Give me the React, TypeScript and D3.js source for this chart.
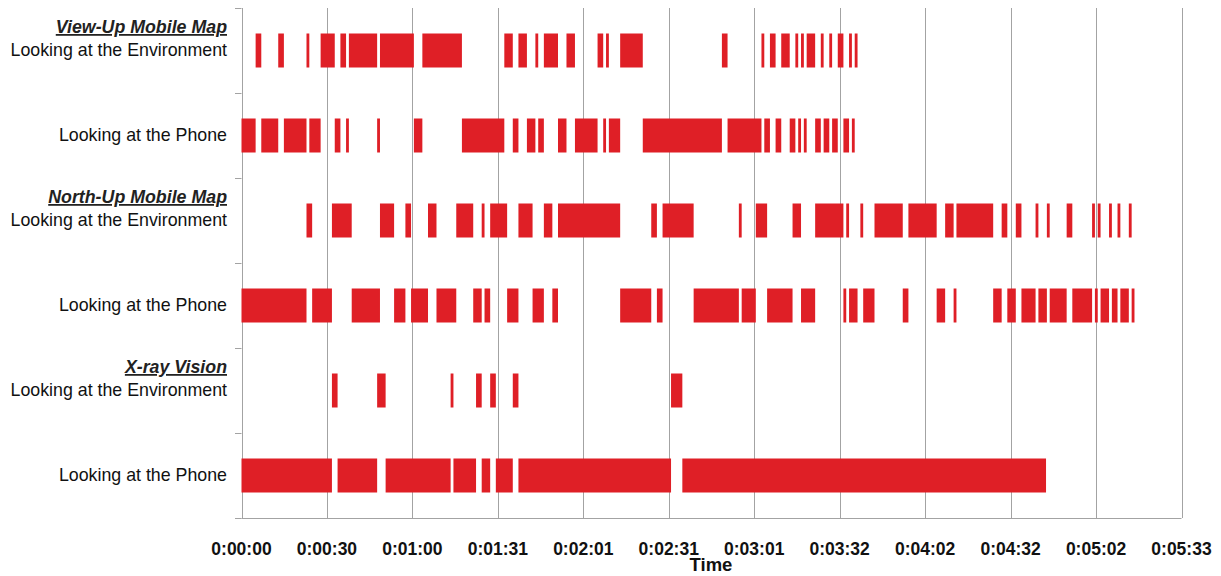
import React from "react";
import * as d3 from "d3";

// Row categories (top to bottom)
const rowKeys = ["vuEnv", "vuPhone", "nuEnv", "nuPhone", "xrEnv", "xrPhone"];
const rowLabels = [
  "Looking at the Environment",
  "Looking at the Phone",
  "Looking at the Environment",
  "Looking at the Phone",
  "Looking at the Environment",
  "Looking at the Phone",
];
const groupTitles = ["View-Up Mobile Map", "", "North-Up Mobile Map", "", "X-ray Vision", ""];

// Intervals [start, end] in seconds
const viewUpEnv: [number, number][] = [
  [5, 7], [13, 15], [23, 24], [28, 33], [35, 37], [38, 48], [49, 61], [64, 78], [93, 96], [98, 101],
  [104, 105], [107, 112], [115, 118], [126, 128], [129, 130], [134, 142], [170, 172], [184, 185],
  [187, 189], [191, 194], [196, 197], [198, 199], [200, 203], [205, 206], [208, 209], [211, 213],
  [215, 216], [217, 218],
];
const viewUpPhone: [number, number][] = [
  [0, 5], [7, 13], [15, 23], [24, 28], [33, 35], [37, 38], [48, 49], [61, 64], [78, 93], [96, 98],
  [101, 104], [105, 107], [112, 115], [118, 126], [128, 129], [130, 134], [142, 170], [172, 184],
  [185, 187], [189, 191], [194, 196], [197, 198], [199, 200], [203, 205], [206, 208], [209, 211],
  [213, 215], [216, 217],
];
const northUpEnv: [number, number][] = [
  [23, 25], [32, 39], [49, 54], [58, 60], [66, 69], [76, 82], [85, 86], [88, 94], [98, 103],
  [107, 110], [112, 134], [145, 147], [149, 160], [176, 177], [182, 186], [195, 198], [203, 213],
  [214, 215], [219, 220], [224, 234], [236, 246], [249, 252], [253, 266], [269, 271], [274, 276],
  [281, 282], [285, 286], [292, 294], [301, 302], [303, 304], [307, 308], [310, 311], [314, 315],
];
const northUpPhone: [number, number][] = [
  [0, 23], [25, 32], [39, 49], [54, 58], [60, 66], [69, 76], [82, 85], [86, 88], [94, 98],
  [103, 107], [110, 112], [134, 145], [147, 149], [160, 176], [177, 182], [186, 195], [198, 203],
  [213, 214], [215, 218], [220, 224], [234, 236], [246, 249], [252, 253], [266, 269], [271, 274],
  [276, 281], [282, 285], [286, 292], [294, 301], [302, 303], [304, 307], [308, 310], [311, 314],
  [315, 316],
];
const xrayEnv: [number, number][] = [
  [32, 34], [48, 51], [74, 75], [83, 85], [88, 90], [96, 98], [152, 156],
];
const xrayPhone: [number, number][] = [
  [0, 32], [34, 48], [51, 74], [75, 83], [85, 88], [90, 96], [98, 152], [156, 284.7],
];
const seriesByRow = [viewUpEnv, viewUpPhone, northUpEnv, northUpPhone, xrayEnv, xrayPhone];

// X axis ticks (seconds) and labels
const tickSeconds = [0, 30.24, 60.48, 90.72, 120.96, 151.2, 181.44, 211.68, 241.92, 272.16, 302.4, 332.64];
const tickLabels = [
  "0:00:00", "0:00:30", "0:01:00", "0:01:31", "0:02:01", "0:02:31",
  "0:03:01", "0:03:32", "0:04:02", "0:04:32", "0:05:02", "0:05:33",
];

const W = 1221;
const H = 576;
const FONT = "Liberation Sans, Arial, sans-serif";

export default function App() {
  const x = d3.scaleLinear().domain([0, 332.64]).range([241.5, 1181.5]);
  const y = d3.scaleBand().domain(rowKeys).range([8, 518]);
  const barH = 34;
  const fill = "#df1f26";
  const grid = "#a3a3a3";

  return (
    <svg width={W} height={H} style={{ position: "absolute", left: 0, top: 0 }} fontFamily={FONT}>
      <rect x={0} y={0} width={W} height={H} fill="#fff" />
      {/* vertical gridlines */}
      {tickSeconds.map((t, i) => (
        <line key={"g" + i} x1={Math.round(x(t)) + 0.5} x2={Math.round(x(t)) + 0.5} y1={8} y2={518} stroke={grid} strokeWidth={1} />
      ))}
      {/* y axis ticks */}
      {rowKeys.map((k, i) => (
        <line key={"yt" + i} x1={235} x2={241.5} y1={Math.round(y(k)!) + 0.5} y2={Math.round(y(k)!) + 0.5} stroke={grid} />
      ))}
      <line x1={235} x2={241.5} y1={518.5} y2={518.5} stroke={grid} />
      {/* x axis line */}
      <line x1={241.5} x2={1181.5} y1={518.5} y2={518.5} stroke={grid} />
      {/* bars */}
      {seriesByRow.map((series, ri) => {
        const cy = y(rowKeys[ri])! + y.bandwidth() / 2;
        return (
          <g key={"r" + ri}>
            {series.map(([s, e], j) => (
              <rect key={j} x={x(s)} y={cy - barH / 2} width={x(e) - x(s)} height={barH} fill={fill} />
            ))}
          </g>
        );
      })}
      {/* row labels */}
      {rowKeys.map((k, i) => {
        const cy = y(k)! + y.bandwidth() / 2;
        return (
          <g key={"l" + i}>
            {groupTitles[i] && (
              <text x={227} y={cy - 17.5} textAnchor="end" fontSize={17.8} fontWeight="bold" fontStyle="italic" textDecoration="underline" fill="#222">
                {groupTitles[i]}
              </text>
            )}
            <text x={227} y={cy + 5} textAnchor="end" fontSize={17.8} fill="#111">
              {rowLabels[i]}
            </text>
          </g>
        );
      })}
      {/* x tick labels */}
      {tickSeconds.map((t, i) => (
        <text key={"xl" + i} x={x(t)} y={555} textAnchor="middle" fontSize={17.5} fontWeight="bold" fill="#111">
          {tickLabels[i]}
        </text>
      ))}
      <text x={711} y={571} textAnchor="middle" fontSize={18.5} fontWeight="bold" fill="#111">Time</text>
    </svg>
  );
}
